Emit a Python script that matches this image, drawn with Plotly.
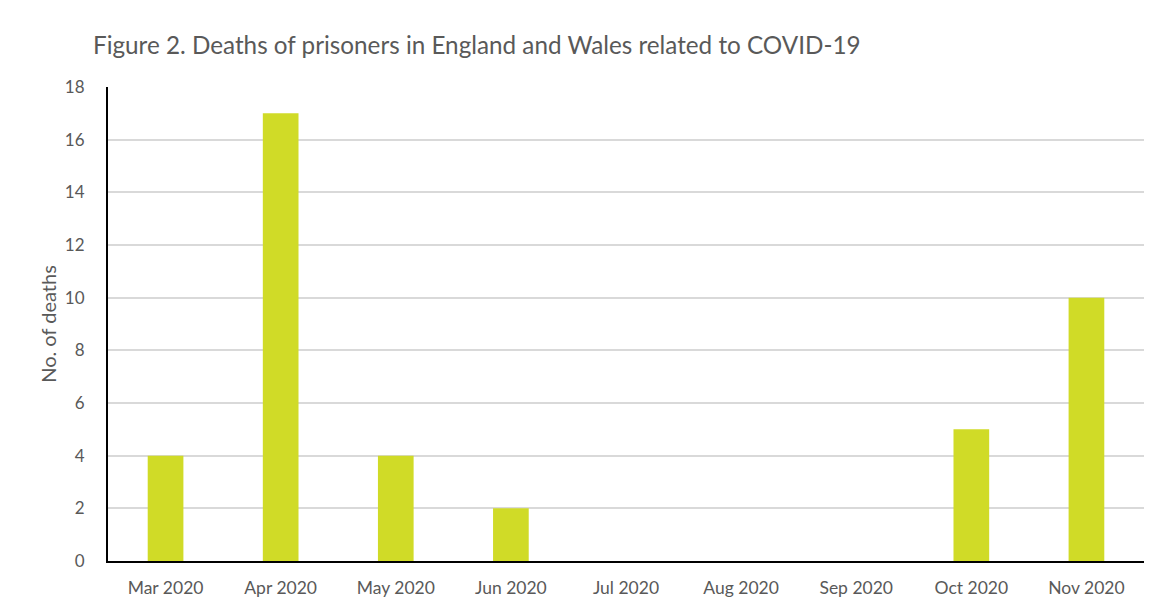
import plotly.graph_objects as go

months = ["Mar 2020", "Apr 2020", "May 2020", "Jun 2020", "Jul 2020",
          "Aug 2020", "Sep 2020", "Oct 2020", "Nov 2020"]
deaths = [4, 17, 4, 2, 0, 0, 0, 5, 10]
y_ticks = [0, 2, 4, 6, 8, 10, 12, 14, 16, 18]

FONT = "Lato, Calibri, Carlito, sans-serif"
GREY = "#595959"

fig = go.Figure(go.Bar(
    x=months, y=deaths, marker=dict(color="#D0DB27", line=dict(width=0)),
    width=0.31,
))

fig.update_layout(
    width=1153, height=605,
    margin=dict(l=100, r=17, t=79, b=52),
    paper_bgcolor="white", plot_bgcolor="white",
    showlegend=False,
    font=dict(family=FONT, color=GREY),
    title=dict(text="Figure 2. Deaths of prisoners in England and Wales related to COVID-19",
               x=85/1153, xanchor="left", y=1-38/605, yanchor="middle",
               font=dict(size=24.25, color=GREY, family=FONT)),
)
fig.update_xaxes(
    showline=True, linecolor="black", linewidth=2,
    ticks="", tickfont=dict(size=17.5, color=GREY), ticklabelstandoff=10,
    showgrid=False, range=[-0.5, 8.5],
)
fig.update_yaxes(
    range=[0, 18], tickvals=y_ticks, showgrid=True, gridcolor="#D9D9D9", gridwidth=1.5,
    showline=True, linecolor="black", linewidth=2, zeroline=False,
    ticks="", tickfont=dict(size=17, color=GREY), ticklabelstandoff=18,
    title=dict(text="No. of deaths", font=dict(size=20, color=GREY), standoff=3),
)

fig.write_html("out.html")
